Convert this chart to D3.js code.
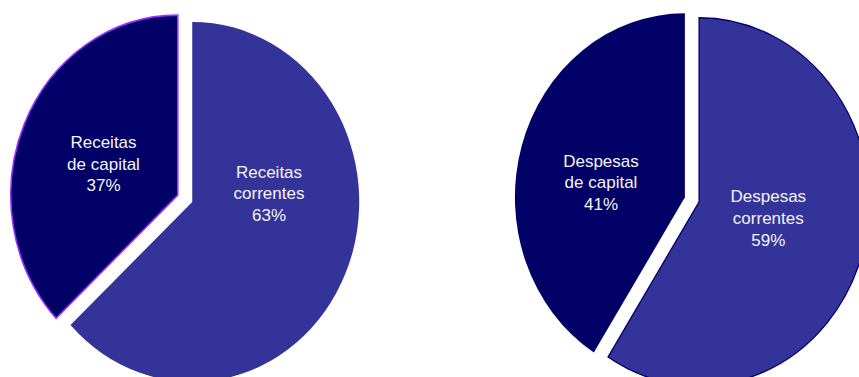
<!DOCTYPE html>
<html>
<head>
<meta charset="utf-8">
<script src="https://cdn.jsdelivr.net/npm/d3@7/dist/d3.min.js"></script>
<style>
  html, body { margin: 0; padding: 0; background: #ffffff; }
  svg { display: block; }
</style>
</head>
<body>
<svg id="chart" width="859" height="377"></svg>
<script>
// Receitas (revenue) split
const receitasCategories = ["Receitas correntes", "Receitas de capital"];
const receitasValues = [63, 37];

// Despesas (expenditure) split
const despesasCategories = ["Despesas correntes", "Despesas de capital"];
const despesasValues = [59, 41];

const sliceColors = ["#333399", "#000066"];

const svg = d3.select("#chart");

// Geometry of each elliptical pie: centre, horizontal/vertical radius, explode distance,
// per-slice outline, and label anchor (centre x, middle-line baseline) relative to the centre.
const pies = [
  {
    categories: receitasCategories, values: receitasValues,
    cx: 185, cy: 198.5, rx: 167, ry: 180, explode: 8.5,
    strokes: [null, { color: "#9b30ff", width: 1.6 }],
    labelPos: [[84, 0.8], [-81.5, -29]]
  },
  {
    categories: despesasCategories, values: despesasValues,
    cx: 692, cy: 199.5, rx: 170, ry: 184, explode: 8,
    strokes: [{ color: "#000066", width: 1.3 }, null],
    labelPos: [[76.3, 24.5], [-91, -11.2]]
  }
];

const pieLayout = d3.pie().sort(null).value(d => d).startAngle(0).endAngle(2 * Math.PI);

pies.forEach(p => {
  const arcs = pieLayout(p.values);
  const total = d3.sum(p.values);
  const arc = d3.arc().innerRadius(0).outerRadius(p.ry);

  const g = svg.append("g")
    .attr("transform", `translate(${p.cx},${p.cy}) scale(${p.rx / p.ry},1)`);

  g.selectAll("path")
    .data(arcs)
    .join("path")
    .attr("transform", d => {
      const mid = (d.startAngle + d.endAngle) / 2;
      return `translate(${p.explode * Math.sin(mid)},${-p.explode * Math.cos(mid)})`;
    })
    .attr("d", arc)
    .attr("fill", (d, i) => sliceColors[i])
    .attr("stroke", (d, i) => p.strokes[i] ? p.strokes[i].color : "none")
    .attr("stroke-width", (d, i) => p.strokes[i] ? p.strokes[i].width : 0)
    .attr("stroke-linejoin", "miter")
    .attr("vector-effect", "non-scaling-stroke");

  const lineGap = 21.7;
  arcs.forEach((d, i) => {
    const name = p.categories[i];
    const cut = name.indexOf(" ");
    const lines = [name.slice(0, cut), name.slice(cut + 1),
      Math.round(d.value / total * 100) + "%"];
    const [lx, ly] = p.labelPos[i];
    const t = svg.append("text")
      .attr("x", p.cx + lx)
      .attr("y", p.cy + ly - lineGap)
      .attr("text-anchor", "middle")
      .attr("font-family", "'Liberation Sans', Arial, sans-serif")
      .attr("font-size", 17)
      .attr("fill", "#f4f4f4");
    lines.forEach((s, k) => {
      t.append("tspan")
        .attr("x", p.cx + lx)
        .attr("dy", k === 0 ? 0 : lineGap)
        .text(s);
    });
  });
});
</script>
</body>
</html>
